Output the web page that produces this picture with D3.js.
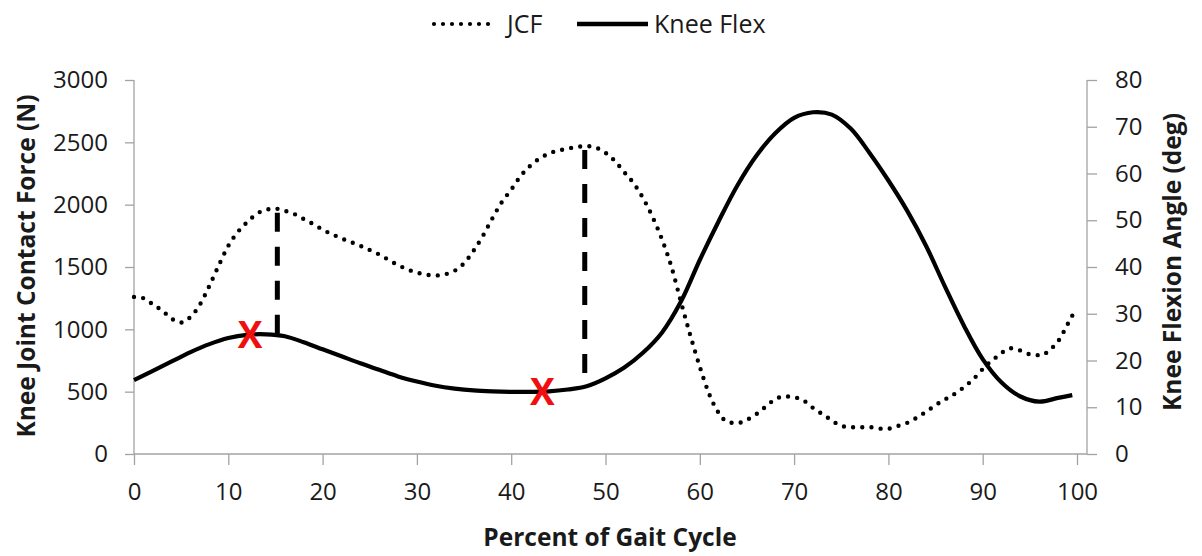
<!DOCTYPE html>
<html>
<head>
<meta charset="utf-8">
<script src="https://cdn.jsdelivr.net/npm/d3@7"></script>
<style>
  html, body { margin: 0; padding: 0; background: #fff; }
  svg { display: block; }
  text { font-family: "Open Sans", "Liberation Sans", sans-serif; fill: #1a1a1a; }
</style>
</head>
<body>
<svg id="chart" width="1202" height="556"></svg>
<script>
// Percent of gait cycle and knee joint contact force (N)
const jcfPct = [0, 1, 2, 3, 4, 5, 6, 7, 8, 9, 10, 11, 12, 13, 14, 15, 16, 17, 18, 19, 20, 22, 24, 26, 28, 30, 32, 34, 35, 36, 37, 38, 39, 40, 41, 42, 43, 44, 46, 48, 49.5, 51, 52, 53, 54, 55, 56, 57, 58, 59, 60, 61, 62, 63, 64, 65, 66, 67, 68, 69, 70, 71, 72, 73, 74, 75, 76, 78, 79.7, 81, 82, 83.5, 85.5, 87.3, 89, 90.5, 91.5, 93, 94, 95, 96.3, 97, 98, 99, 99.5, 100];
const jcfForce = [1260, 1250, 1200, 1150, 1085, 1055, 1100, 1200, 1350, 1515, 1670, 1780, 1860, 1925, 1960, 1968, 1950, 1925, 1885, 1845, 1800, 1730, 1670, 1600, 1515, 1455, 1432, 1470, 1530, 1630, 1750, 1890, 2020, 2120, 2230, 2310, 2370, 2410, 2450, 2470, 2440, 2350, 2260, 2170, 2050, 1900, 1720, 1500, 1220, 950, 700, 480, 330, 256, 248, 275, 320, 380, 440, 462, 455, 430, 370, 320, 270, 225, 215, 215, 200, 225, 250, 315, 416, 496, 600, 720, 780, 848, 830, 800, 792, 830, 904, 1040, 1110, 1144];

// Percent of gait cycle and knee flexion angle (deg)
const kneePct = [0, 2, 4, 6, 8, 10, 12, 14, 16, 18, 20, 22, 24, 26, 28, 30, 32, 34, 36, 38, 40, 42, 44, 46, 48, 50, 52, 54, 56, 58, 60, 62, 64, 66, 68, 70, 72, 74, 76, 78, 80, 82, 84, 86, 88, 90, 92, 94, 96, 98, 99.5];
const kneeAngle = [15.8, 17.8, 19.8, 21.8, 23.5, 24.8, 25.5, 25.6, 25.2, 23.9, 22.4, 20.9, 19.4, 18.0, 16.6, 15.5, 14.6, 14.0, 13.6, 13.4, 13.3, 13.3, 13.4, 13.8, 14.5, 16.2, 18.5, 21.7, 26.0, 32.6, 41.5, 49.8, 57.5, 63.8, 68.6, 71.9, 73.1, 72.6, 69.6, 64.4, 58.5, 52.0, 44.5, 35.8, 27.5, 20.3, 15.3, 12.3, 11.2, 12.0, 12.6];

// Instants of interest: knee flexion marked with a red cross
const markPct = [12.3, 43.3];
const markAngle = [25.4, 13.3];

// Vertical guides from the force peaks down to the knee curve
const guidePct = [15.2, 47.8];
const guideForce = [1968, 2470];
const guideAngle = [25.6, 14.8];

// Axis ticks
const xTicks = [0, 10, 20, 30, 40, 50, 60, 70, 80, 90, 100];
const forceTicks = [0, 500, 1000, 1500, 2000, 2500, 3000];
const angleTicks = [0, 10, 20, 30, 40, 50, 60, 70, 80];

const svg = d3.select("#chart");
const axisColor = "#a3a3a3";

const plotLeft = 134, plotRight = 1087, plotTop = 80, plotBottom = 454;

const x = d3.scaleLinear().domain([0, 100]).range([plotLeft, 1077]);
const yForce = d3.scaleLinear().domain([0, 3000]).range([plotBottom, plotTop]);
const yAngle = d3.scaleLinear().domain([0, 80]).range([plotBottom, plotTop]);

const plain = d3.format("d");

function styleAxis(g) {
  g.select(".domain").remove();
  g.selectAll(".tick line").attr("stroke", axisColor).attr("stroke-width", 1.3);
  g.selectAll(".tick text").style("font-size", "24px").attr("fill", "#1a1a1a");
}

// Axis lines
svg.append("line").attr("x1", plotLeft).attr("x2", plotRight)
  .attr("y1", plotBottom).attr("y2", plotBottom)
  .attr("stroke", axisColor).attr("stroke-width", 1.3);
svg.append("line").attr("x1", plotLeft).attr("x2", plotLeft)
  .attr("y1", plotTop).attr("y2", plotBottom)
  .attr("stroke", axisColor).attr("stroke-width", 1.3);
svg.append("line").attr("x1", plotRight).attr("x2", plotRight)
  .attr("y1", plotTop).attr("y2", plotBottom)
  .attr("stroke", axisColor).attr("stroke-width", 1.3);

svg.append("g").attr("transform", `translate(0,${plotBottom})`)
  .call(d3.axisBottom(x).tickValues(xTicks).tickFormat(plain).tickSize(11).tickPadding(18).tickSizeOuter(0))
  .call(styleAxis);

svg.append("g").attr("transform", `translate(${plotLeft},0)`)
  .call(d3.axisLeft(yForce).tickValues(forceTicks).tickFormat(plain).tickSize(9).tickPadding(17).tickSizeOuter(0))
  .call(styleAxis);

svg.append("g").attr("transform", `translate(${plotRight},0)`)
  .call(d3.axisRight(yAngle).tickValues(angleTicks).tickFormat(plain).tickSize(10).tickPadding(18).tickSizeOuter(0))
  .call(styleAxis);

// Axis titles
svg.append("text")
  .attr("x", 610).attr("y", 546)
  .attr("text-anchor", "middle")
  .style("font-size", "24.5px").style("font-weight", "bold")
  .text("Percent of Gait Cycle");

svg.append("text")
  .attr("transform", "translate(35,266) rotate(-90)")
  .attr("text-anchor", "middle")
  .style("font-size", "24.5px").style("font-weight", "bold")
  .text("Knee Joint Contact Force (N)");

svg.append("text")
  .attr("transform", "translate(1181,262) rotate(-90)")
  .attr("text-anchor", "middle")
  .style("font-size", "24.5px").style("font-weight", "bold")
  .text("Knee Flexion Angle (deg)");

// Series
const jcfData = jcfPct.map((p, i) => [p, jcfForce[i]]);
const kneeData = kneePct.map((p, i) => [p, kneeAngle[i]]);

const jcfLine = d3.line().x(d => x(d[0])).y(d => yForce(d[1])).curve(d3.curveMonotoneX);
const kneeLine = d3.line().x(d => x(d[0])).y(d => yAngle(d[1])).curve(d3.curveCatmullRom.alpha(0.5));

svg.append("path").datum(jcfData)
  .attr("d", jcfLine)
  .attr("fill", "none").attr("stroke", "#000")
  .attr("stroke-width", 4.4).attr("stroke-linecap", "round")
  .attr("stroke-dasharray", "0 9.2");

// Dashed guides
guidePct.forEach((p, i) => {
  svg.append("line")
    .attr("x1", x(p)).attr("x2", x(p))
    .attr("y1", yForce(guideForce[i]) + 4).attr("y2", yAngle(guideAngle[i]))
    .attr("stroke", "#000").attr("stroke-width", 5)
    .attr("stroke-dasharray", "19 15");
});

svg.append("path").datum(kneeData)
  .attr("d", kneeLine)
  .attr("fill", "none").attr("stroke", "#000")
  .attr("stroke-width", 4.2).attr("stroke-linejoin", "round");

// Red cross markers
markPct.forEach((p, i) => {
  svg.append("text")
    .attr("x", x(p)).attr("y", yAngle(markAngle[i]) + 13)
    .attr("text-anchor", "middle")
    .style("font-size", "37px").style("font-weight", "bold")
    .style("fill", "#f00f0f")
    .text("X");
});

// Legend
const legend = svg.append("g");
legend.append("line").attr("x1", 434).attr("x2", 497).attr("y1", 24).attr("y2", 24)
  .attr("stroke", "#000").attr("stroke-width", 4.2)
  .attr("stroke-linecap", "round").attr("stroke-dasharray", "0 9");
legend.append("text").attr("x", 507).attr("y", 33).style("font-size", "25px").text("JCF");
legend.append("line").attr("x1", 577).attr("x2", 648).attr("y1", 24).attr("y2", 24)
  .attr("stroke", "#000").attr("stroke-width", 4.5);
legend.append("text").attr("x", 654).attr("y", 33).style("font-size", "25px").text("Knee Flex");
</script>
</body>
</html>
